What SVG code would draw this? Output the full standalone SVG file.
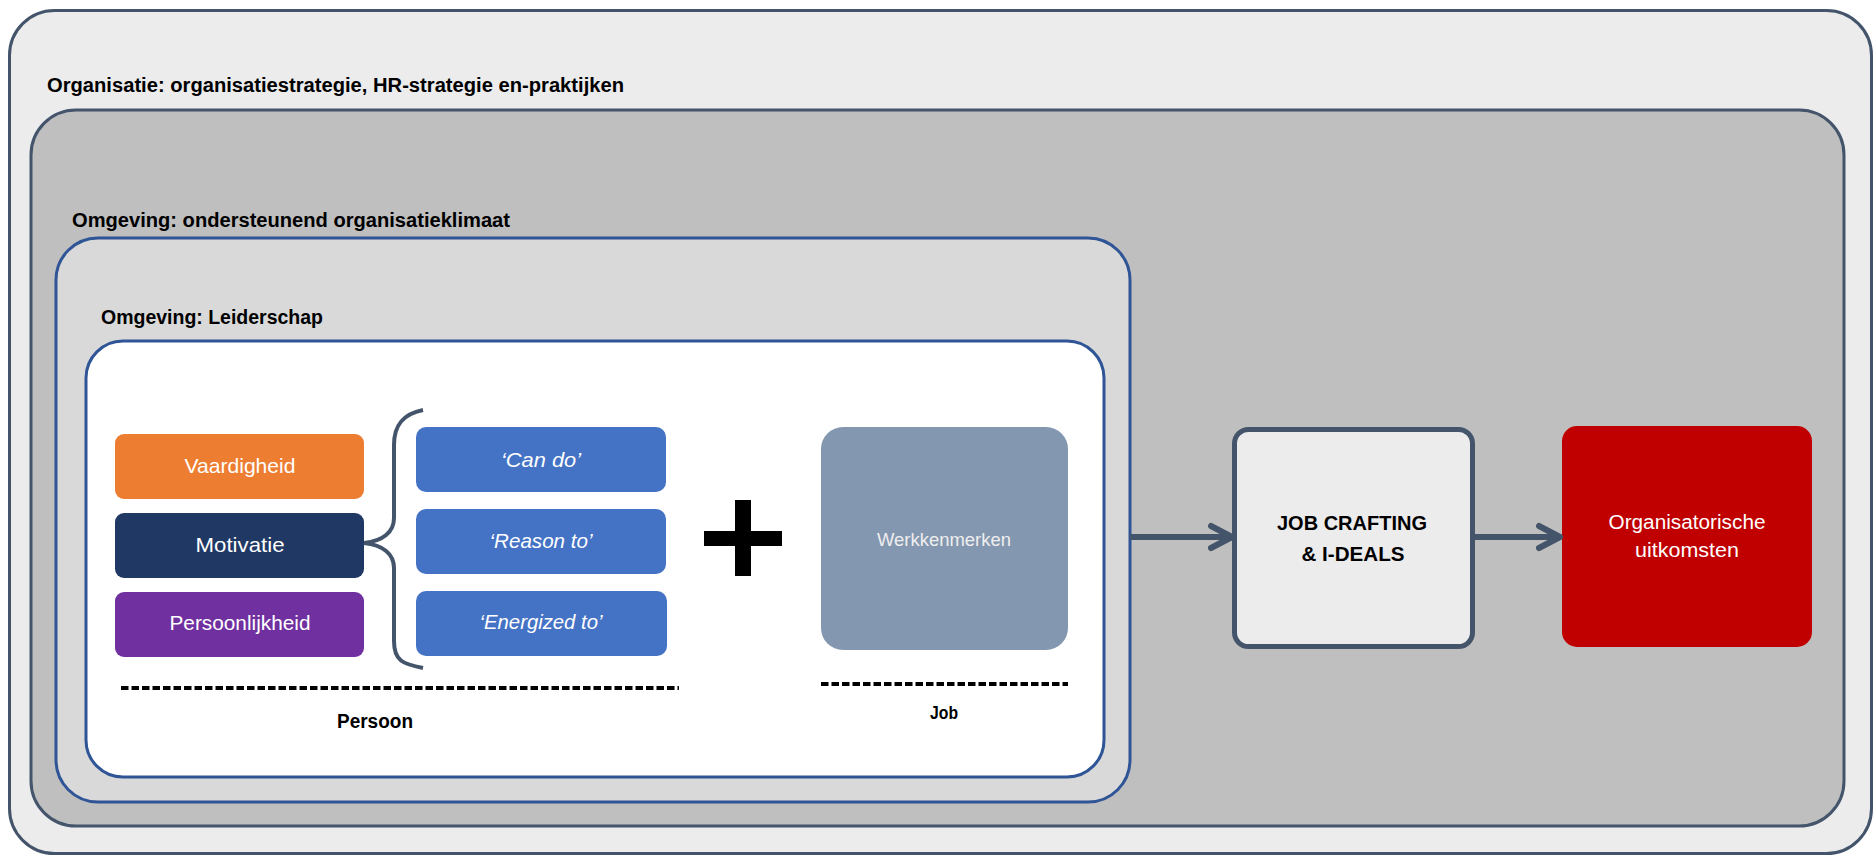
<svg xmlns="http://www.w3.org/2000/svg" width="1874" height="857" viewBox="0 0 1874 857">
<style>
text{font-family:"Liberation Sans",Arial,sans-serif}
.title{font-size:20px;font-weight:bold;fill:#000}
.lbl{font-size:21px;fill:#fff;text-anchor:middle}
.ital{font-size:21px;fill:#fff;text-anchor:middle;font-style:italic}
.bold{font-weight:bold;fill:#000;text-anchor:middle}
.frameA{stroke:#44546a;stroke-width:3}
.frameB{stroke:#2f5597;stroke-width:3}
.dash{stroke:#000;stroke-width:4;stroke-dasharray:7.5 3;fill:none}
.conn{stroke:#44546a;stroke-width:6;fill:none}
</style>
<defs>
<marker id="chev" viewBox="-4 -4 32 32" refX="22" refY="12" markerWidth="32" markerHeight="32" orient="auto" markerUnits="userSpaceOnUse" overflow="visible">
<path d="M1,1 L22,12 L1,23" fill="none" stroke="#44546a" stroke-width="6" stroke-linecap="round" stroke-linejoin="round"/>
</marker>
</defs>
<rect width="1874" height="857" fill="#fff"/>
<g id="organisatie">
<rect class="frameA" x="9.5" y="10.5" width="1862" height="843" rx="45" fill="#ececec"/>
<text class="title" x="47" y="92" textLength="577" lengthAdjust="spacingAndGlyphs">Organisatie: organisatiestrategie, HR-strategie en-praktijken</text>
</g>
<g id="omgeving-klimaat">
<rect class="frameA" x="31" y="110" width="1813" height="716" rx="45" fill="#bfbfbf"/>
<text class="title" x="72" y="227" textLength="438" lengthAdjust="spacingAndGlyphs">Omgeving: ondersteunend organisatieklimaat</text>
</g>
<g id="omgeving-leiderschap">
<rect class="frameB" x="56" y="238" width="1074" height="564" rx="42" fill="#d9d9d9"/>
<text class="title" x="101" y="324" textLength="222" lengthAdjust="spacingAndGlyphs">Omgeving: Leiderschap</text>
</g>
<g id="persoon-job">
<rect class="frameB" x="86" y="341" width="1018" height="436" rx="37" fill="#fff"/>
</g>
<g id="vaardigheid">
<rect x="115" y="434" width="249" height="65" rx="9" fill="#ed7d31"/>
<text class="lbl" x="240" y="473" textLength="111" lengthAdjust="spacingAndGlyphs">Vaardigheid</text>
</g>
<g id="motivatie">
<rect x="115" y="513" width="249" height="65" rx="9" fill="#203864"/>
<text class="lbl" x="240" y="552" textLength="89" lengthAdjust="spacingAndGlyphs">Motivatie</text>
</g>
<g id="persoonlijkheid">
<rect x="115" y="592" width="249" height="65" rx="9" fill="#7030a0"/>
<text class="lbl" x="240" y="630" textLength="141" lengthAdjust="spacingAndGlyphs">Persoonlijkheid</text>
</g>
<g id="brace">
<path d="M423,410 C403,414 394,425 394,445 L394,518 C394,532 383,541 364,543 C383,545 394,554 394,568 L394,641 C394,661 403,664 423,668" fill="none" stroke="#44546a" stroke-width="4"/>
</g>
<g id="can-do">
<rect x="416" y="427" width="250" height="65" rx="10" fill="#4472c4"/>
<text class="ital" x="541" y="467" textLength="80" lengthAdjust="spacingAndGlyphs">‘Can do’</text>
</g>
<g id="reason-to">
<rect x="416" y="509" width="250" height="65" rx="10" fill="#4472c4"/>
<text class="ital" x="541" y="548" textLength="103" lengthAdjust="spacingAndGlyphs">‘Reason to’</text>
</g>
<g id="energized-to">
<rect x="416" y="591" width="251" height="65" rx="10" fill="#4472c4"/>
<text class="ital" x="541" y="629" textLength="123" lengthAdjust="spacingAndGlyphs">‘Energized to’</text>
</g>
<g id="persoon">
<line class="dash" x1="121" y1="688" x2="679" y2="688"/>
<text class="bold" x="375" y="728" font-size="20" textLength="76" lengthAdjust="spacingAndGlyphs">Persoon</text>
</g>
<g id="plus">
<rect x="735" y="500" width="16" height="76" fill="#000"/>
<rect x="704" y="531" width="78" height="15" fill="#000"/>
</g>
<g id="werkkenmerken">
<rect x="821" y="427" width="247" height="223" rx="22" fill="#8497b0"/>
<text x="944" y="546" font-size="18.5" fill="#eeeeee" text-anchor="middle" textLength="134" lengthAdjust="spacingAndGlyphs">Werkkenmerken</text>
</g>
<g id="job">
<line class="dash" x1="821" y1="684" x2="1068" y2="684"/>
<text class="bold" x="944" y="719" font-size="19" textLength="28" lengthAdjust="spacingAndGlyphs">Job</text>
</g>
<g id="job-crafting">
<rect x="1234.5" y="429.5" width="238" height="217" rx="14" fill="#ececec" stroke="#44546a" stroke-width="5"/>
<text class="bold" x="1352" y="530" font-size="20" textLength="150" lengthAdjust="spacingAndGlyphs">JOB CRAFTING</text>
<text class="bold" x="1353" y="561" font-size="20" textLength="103" lengthAdjust="spacingAndGlyphs">&amp; I-DEALS</text>
</g>
<g id="uitkomsten">
<rect x="1562" y="426" width="250" height="221" rx="15" fill="#c00000"/>
<text class="lbl" x="1687" y="529" font-size="20" textLength="157" lengthAdjust="spacingAndGlyphs" style="font-size:20px">Organisatorische</text>
<text class="lbl" x="1687" y="557" style="font-size:20px" textLength="104" lengthAdjust="spacingAndGlyphs">uitkomsten</text>
</g>
<g id="connectors">
<line class="conn" x1="1130" y1="537" x2="1232" y2="537" marker-end="url(#chev)"/>
<line class="conn" x1="1475" y1="537" x2="1560" y2="537" marker-end="url(#chev)"/>
</g>
</svg>
